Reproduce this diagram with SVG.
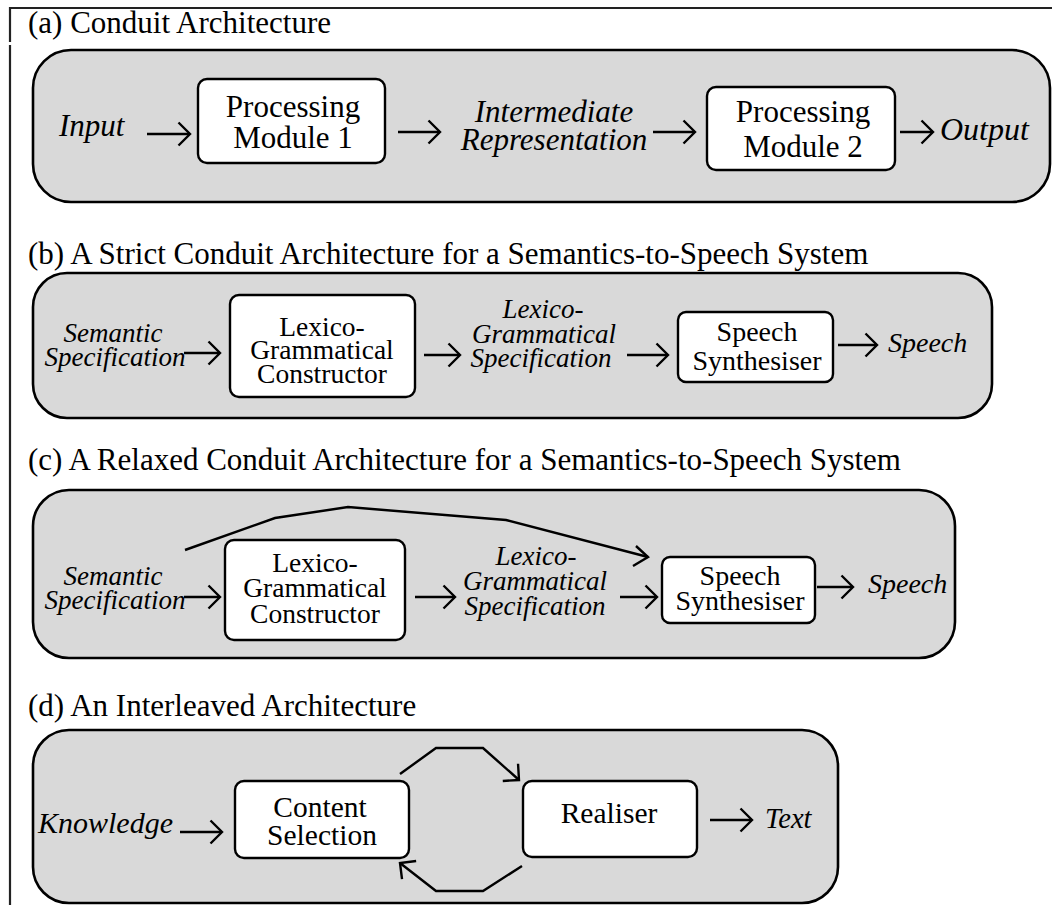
<svg xmlns="http://www.w3.org/2000/svg" width="1052" height="905" viewBox="0 0 1052 905">
<style>
.frame{stroke:#222;stroke-width:2.2;fill:none}
.panel{fill:#d9d9d9;stroke:#000;stroke-width:2.6}
.box{fill:#fff;stroke:#000;stroke-width:2.4}
.title{font-family:"Liberation Serif","Times New Roman",serif;font-size:31px;fill:#000}
.lbl{font-family:"Liberation Serif","Times New Roman",serif;fill:#000;text-anchor:middle}
.it{font-family:"Liberation Serif","Times New Roman",serif;font-style:italic;fill:#000}
.conn line,.conn polyline{stroke:#000;stroke-width:2.4;fill:none;marker-end:url(#ah)}
</style>
<defs>
<marker id="ah" markerUnits="userSpaceOnUse" viewBox="-14 -14 16 28" refX="0" refY="0" markerWidth="16" markerHeight="28" orient="auto" overflow="visible">
<path d="M-11.5,-11.5 L0,0 L-11.5,11.5" fill="none" stroke="#000" stroke-width="2.4" stroke-linejoin="miter"/>
</marker>
</defs>
<g id="frame">
<line class="frame" x1="10" y1="8" x2="1052" y2="8"/>
<line class="frame" x1="10" y1="7" x2="10" y2="42"/>
<line class="frame" x1="10" y1="45" x2="10" y2="905"/>
</g>

<!-- Panel (a) -->
<g id="panel-a">
<text class="title" x="28" y="33">(a) Conduit Architecture</text>
<rect class="panel" x="33" y="50" width="1017" height="152" rx="38"/>
</g>
<g id="a-input"><text class="it" x="59" y="136" font-size="31">Input</text></g>
<g id="a-module1">
<rect class="box" x="198" y="79" width="187" height="84" rx="9"/>
<text class="lbl" x="293" y="117" font-size="31">Processing</text>
<text class="lbl" x="293" y="148" font-size="31">Module 1</text>
</g>
<g id="a-intermediate">
<text class="it" x="554" y="122" font-size="31" text-anchor="middle">Intermediate</text>
<text class="it" x="554" y="150" font-size="31" text-anchor="middle">Representation</text>
</g>
<g id="a-module2">
<rect class="box" x="707" y="87" width="188" height="83" rx="9"/>
<text class="lbl" x="803" y="122" font-size="31">Processing</text>
<text class="lbl" x="803" y="157" font-size="31">Module 2</text>
</g>
<g id="a-output"><text class="it" x="940" y="140" font-size="32">Output</text></g>

<!-- Panel (b) -->
<g id="panel-b">
<text class="title" x="28" y="264">(b) A Strict Conduit Architecture for a Semantics-to-Speech System</text>
<rect class="panel" x="33" y="273" width="959" height="145" rx="34"/>
</g>
<g id="b-semantic">
<text class="it" x="113" y="342" font-size="27" text-anchor="middle">Semantic</text>
<text class="it" x="115" y="366" font-size="27" text-anchor="middle">Specification</text>
</g>
<g id="b-lgc">
<rect class="box" x="230" y="295" width="185" height="102" rx="9"/>
<text class="lbl" x="322" y="336" font-size="27.5">Lexico-</text>
<text class="lbl" x="322" y="359" font-size="27.5">Grammatical</text>
<text class="lbl" x="322" y="383" font-size="27.5">Constructor</text>
</g>
<g id="b-lgs">
<text class="it" x="543" y="318" font-size="27" text-anchor="middle">Lexico-</text>
<text class="it" x="544" y="343" font-size="27" text-anchor="middle">Grammatical</text>
<text class="it" x="541" y="367" font-size="27" text-anchor="middle">Specification</text>
</g>
<g id="b-synth">
<rect class="box" x="678" y="312" width="155" height="70" rx="8"/>
<text class="lbl" x="757" y="341" font-size="28">Speech</text>
<text class="lbl" x="757" y="370" font-size="28">Synthesiser</text>
</g>
<g id="b-speech"><text class="it" x="888" y="352" font-size="28">Speech</text></g>

<!-- Panel (c) -->
<g id="panel-c">
<text class="title" x="28" y="470">(c) A Relaxed Conduit Architecture for a Semantics-to-Speech System</text>
<rect class="panel" x="33" y="490" width="922" height="168" rx="36"/>
</g>
<g id="c-semantic">
<text class="it" x="113" y="585" font-size="27" text-anchor="middle">Semantic</text>
<text class="it" x="115" y="609" font-size="27" text-anchor="middle">Specification</text>
</g>
<g id="c-lgc">
<rect class="box" x="225" y="540" width="180" height="100" rx="9"/>
<text class="lbl" x="315" y="572" font-size="27.5">Lexico-</text>
<text class="lbl" x="315" y="597" font-size="27.5">Grammatical</text>
<text class="lbl" x="315" y="623" font-size="27.5">Constructor</text>
</g>
<g id="c-lgs">
<text class="it" x="536" y="565" font-size="27" text-anchor="middle">Lexico-</text>
<text class="it" x="535" y="590" font-size="27" text-anchor="middle">Grammatical</text>
<text class="it" x="535" y="615" font-size="27" text-anchor="middle">Specification</text>
</g>
<g id="c-synth">
<rect class="box" x="662" y="557" width="153" height="66" rx="8"/>
<text class="lbl" x="740" y="585" font-size="28">Speech</text>
<text class="lbl" x="740" y="610" font-size="28">Synthesiser</text>
</g>
<g id="c-speech"><text class="it" x="868" y="593" font-size="28">Speech</text></g>

<!-- Panel (d) -->
<g id="panel-d">
<text class="title" x="28" y="716">(d) An Interleaved Architecture</text>
<rect class="panel" x="33" y="730" width="805" height="173" rx="36"/>
</g>
<g id="d-knowledge"><text class="it" x="38" y="833" font-size="30">Knowledge</text></g>
<g id="d-content">
<rect class="box" x="235" y="781" width="174" height="77" rx="9"/>
<text class="lbl" x="320" y="817" font-size="29.5">Content</text>
<text class="lbl" x="322" y="845" font-size="29.5">Selection</text>
</g>
<g id="d-realiser">
<rect class="box" x="523" y="781" width="174" height="76" rx="9"/>
<text class="lbl" x="609" y="823" font-size="29.5">Realiser</text>
</g>
<g id="d-text"><text class="it" x="765" y="828" font-size="28.5">Text</text></g>

<g id="connectors" class="conn">
<!-- a -->
<line x1="147" y1="134" x2="190" y2="134"/>
<line x1="398" y1="132" x2="440" y2="132"/>
<line x1="653" y1="132" x2="695" y2="132"/>
<line x1="900" y1="132" x2="933" y2="132"/>
<!-- b -->
<line x1="184" y1="353" x2="220" y2="353"/>
<line x1="424" y1="355" x2="460" y2="355"/>
<line x1="627" y1="355" x2="668" y2="355"/>
<line x1="838" y1="345" x2="877" y2="345"/>
<!-- c -->
<line x1="184" y1="597" x2="220" y2="597"/>
<line x1="415" y1="597" x2="455" y2="597"/>
<line x1="620" y1="597" x2="657" y2="597"/>
<line x1="817" y1="587" x2="853" y2="587"/>
<polyline points="185,550 275,518 348,507 506,520 648,557" style="marker-end:none"/>
<path d="M636,546 L648,557 L633,566" fill="none" stroke="#000" stroke-width="2.4"/>
<!-- d -->
<line x1="180" y1="832" x2="222" y2="832"/>
<line x1="710" y1="820" x2="752" y2="820"/>
<polyline points="400,774 436,748 483,748 519,780"/>
<polyline points="522,866 483,891 436,891 400,863"/>
</g>
</svg>
